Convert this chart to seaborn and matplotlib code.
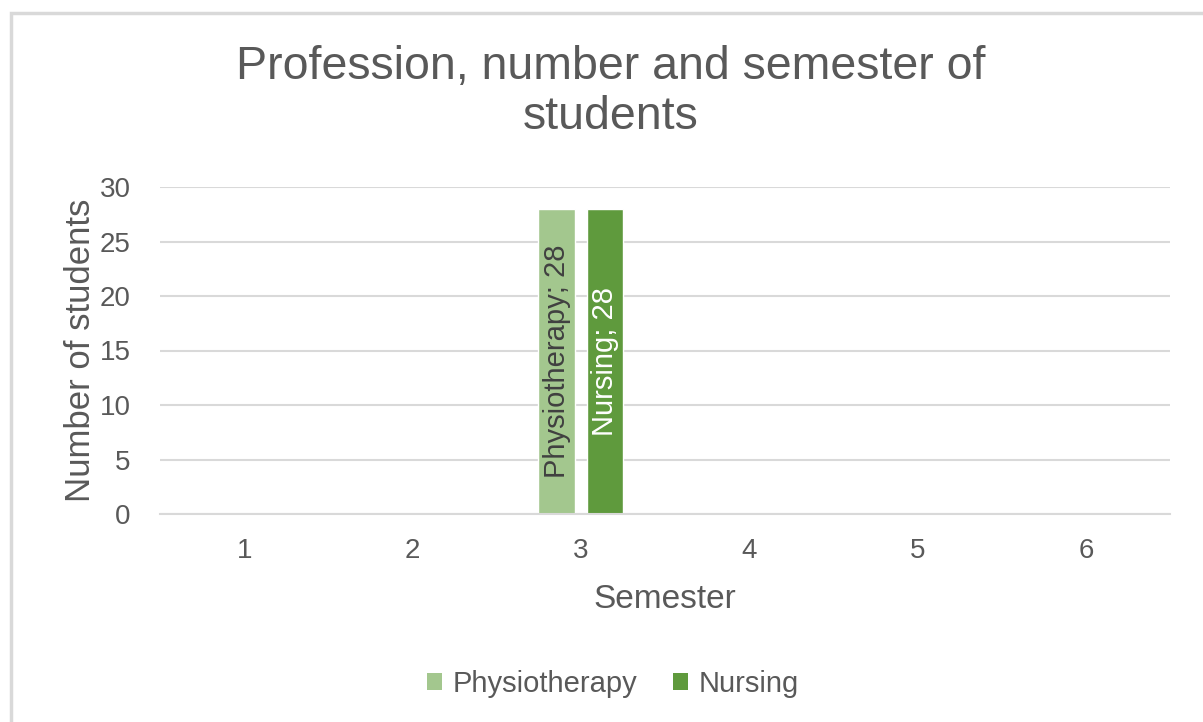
import pandas as pd
import matplotlib.pyplot as plt
import seaborn as sns
from matplotlib.patches import Rectangle, Patch

# data
semesters = [1, 2, 3, 4, 5, 6]
physiotherapy = [0, 0, 28, 0, 0, 0]
nursing = [0, 0, 28, 0, 0, 0]
professions = ["Physiotherapy", "Nursing"]
colors = ["#A3C78E", "#5F9A3D"]
yticks = [0, 5, 10, 15, 20, 25, 30]

TEXT = "#595959"
GRID = "#D9D9D9"

df = pd.DataFrame({
    "Semester": semesters * 2,
    "Profession": ["Physiotherapy"] * len(semesters) + ["Nursing"] * len(semesters),
    "Students": physiotherapy + nursing,
})

sns.set_theme(style="white")
plt.rcParams["font.family"] = ["Liberation Sans", "DejaVu Sans"]

fig = plt.figure(figsize=(12.03, 7.22), dpi=100)
ax = fig.add_axes([160 / 1203, 1 - 514 / 722, (1170 - 160) / 1203, (514 - 187) / 722])

sns.barplot(data=df, x="Semester", y="Students", hue="Profession",
            hue_order=professions, palette=colors, width=0.574, gap=0.237,
            saturation=1, legend=False, ax=ax)

# value labels inside the bars
label_colors = ["#404040", "white"]
for cont, name, lc in zip(ax.containers, professions, label_colors):
    labels = [f"{name}; {int(b.get_height())}" if b.get_height() > 0 else "" for b in cont]
    ax.bar_label(cont, labels=labels, label_type="center", rotation=90,
                 color=lc, fontsize=21)

ax.set_ylim(0, 30)
ax.set_yticks(yticks)
ax.set_xlim(-0.5, len(semesters) - 0.5)
ax.grid(axis="y", color=GRID, linewidth=1.5)
ax.set_axisbelow(True)
for s in ["top", "right", "left"]:
    ax.spines[s].set_visible(False)
ax.spines["bottom"].set_color(GRID)
ax.spines["bottom"].set_linewidth(1.5)
ax.tick_params(axis="both", length=0, labelsize=20, labelcolor=TEXT)
ax.tick_params(axis="y", pad=21)
ax.tick_params(axis="x", pad=17)
ax.set_xlabel("Semester", fontsize=24, color=TEXT, labelpad=15)
ax.set_ylabel("Number of students", fontsize=25, color=TEXT, labelpad=2)

fig.text(611 / 1203, 1 - 92 / 722, "Profession, number and semester of\nstudents",
         ha="center", va="center", fontsize=33.5, color=TEXT, linespacing=1.16)

handles = [Patch(facecolor=c, edgecolor="none") for c in colors]
fig.legend(handles, professions, loc="center", bbox_to_anchor=(613 / 1203, 1 - 684 / 722),
           ncol=2, frameon=False, fontsize=21, labelcolor=TEXT,
           handlelength=0.52, handleheight=0.52, handletextpad=0.38, columnspacing=1.2)

# chart area border (only top and left visible in the crop)
fig.patches.append(Rectangle((10.5 / 1203, -0.1), 1.2, 1.1 - 12.5 / 722,
                             transform=fig.transFigure, fill=False,
                             edgecolor=GRID, linewidth=2.5))

fig.savefig("out.png", dpi=100)
